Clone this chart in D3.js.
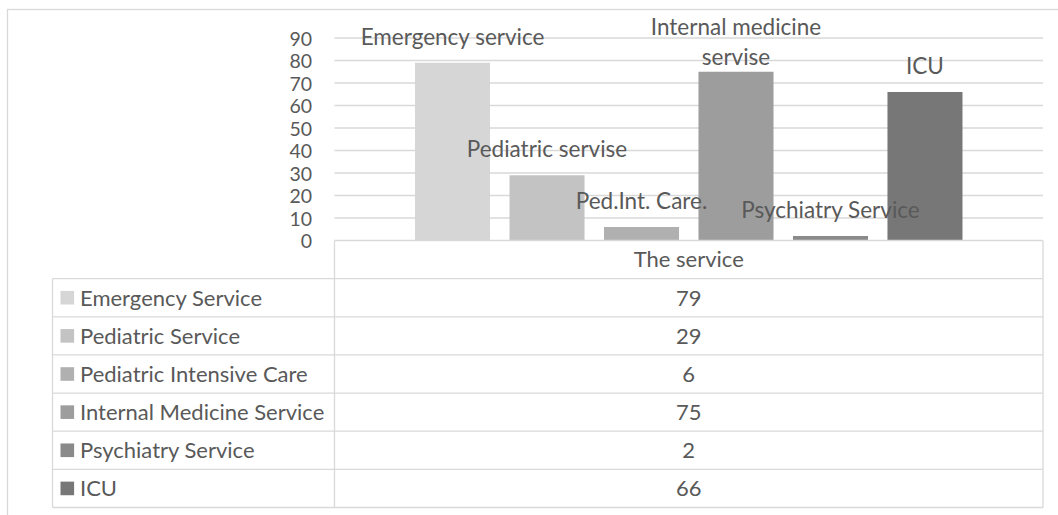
<!DOCTYPE html>
<html>
<head>
<meta charset="utf-8">
<script src="https://cdn.jsdelivr.net/npm/d3@7"></script>
<style>
    body { margin: 0; background: #fff; }
    svg { display: block; }
    text { font-family: Lato, "Open Sans", sans-serif; fill: #595959; }
</style>
</head>
<body>
<div id="chart"></div>
<script>
// chart data
const category = "The service";
const seriesNames = ["Emergency Service", "Pediatric Service", "Pediatric Intensive Care",
    "Internal Medicine Service", "Psychiatry Service", "ICU"];
// labels written above the bars (spelling as in the original)
const barLabels = ["Emergency service", "Pediatric servise", "Ped.Int. Care.",
    "Internal medicine\nservise", "Psychiatry Service", "ICU"];
const values = [79, 29, 6, 75, 2, 66];
const barColors = ["#d6d6d6", "#c3c3c3", "#b0b0b0", "#9d9d9d", "#8a8a8a", "#777777"];
const yTicks = [0, 10, 20, 30, 40, 50, 60, 70, 80, 90];

const width = 1058, height = 515;
const plot = { left: 334.5, right: 1043, top: 38, bottom: 240.5 };
const tableLeft = 52.5;
const rowH = (507.5 - plot.bottom) / 7;
const gridColor = "#d9d9d9";

let svg = d3.select("#chart").append("svg")
    .attr("width", width)
    .attr("height", height);

// outer chart border (runs off the right and bottom edge)
svg.append("rect")
    .attr("x", 7.5).attr("y", 9.5)
    .attr("width", 1100).attr("height", 600)
    .attr("fill", "none")
    .attr("stroke", gridColor)
    .attr("stroke-width", 1.3);

// scales
let y = d3.scaleLinear().domain([0, 90]).range([plot.bottom, plot.top]);

let x0 = d3.scaleBand().domain([category]).range([plot.left, plot.right]);
let x1 = d3.scaleBand().domain(seriesNames)
    .range([0, x0.bandwidth()])
    .paddingInner(0.206)
    .paddingOuter(0.852);

// gridlines
svg.append("g")
    .selectAll("line")
    .data(yTicks.filter(d => d > 0))
    .enter().append("line")
    .attr("x1", plot.left).attr("x2", plot.right)
    .attr("y1", d => y(d)).attr("y2", d => y(d))
    .attr("stroke", gridColor)
    .attr("stroke-width", 1.3);

// y axis labels
let yAxis = d3.axisLeft(y).tickValues(yTicks).tickSize(0).tickPadding(0);
let yAxisG = svg.append("g")
    .attr("transform", `translate(312,0)`)
    .call(yAxis);
yAxisG.select(".domain").remove();
yAxisG.selectAll("text")
    .style("font-family", "Lato, sans-serif")
    .style("font-size", "19.5px")
    .attr("fill", "#595959")
    .attr("dy", "0.36em");

// bars
let groupG = svg.append("g")
    .attr("transform", `translate(${x0(category)},0)`);

groupG.selectAll("rect")
    .data(seriesNames)
    .enter().append("rect")
    .attr("x", d => x1(d))
    .attr("width", x1.bandwidth())
    .attr("y", (d, i) => y(values[i]))
    .attr("height", (d, i) => y(0) - y(values[i]))
    .attr("fill", (d, i) => barColors[i]);

// data labels (series names above bars)
groupG.selectAll(".bar-label")
    .data(seriesNames)
    .enter().append("text")
    .attr("class", "bar-label")
    .attr("text-anchor", "middle")
    .style("font-size", "22.5px")
    .each(function(d, i) {
        let lines = barLabels[i].split("\n");
        let cx = x1(d) + x1.bandwidth() / 2;
        let top = y(values[i]);
        let lastBase = lines.length > 1 ? top - 7 : top - 18;
        let t = d3.select(this);
        lines.forEach((ln, k) => {
            t.append("tspan")
                .attr("x", cx)
                .attr("y", lastBase - (lines.length - 1 - k) * 30)
                .text(ln);
        });
    });

// data table
let table = svg.append("g").attr("class", "data-table");
let lineStyle = sel => sel.attr("stroke", gridColor).attr("stroke-width", 1.3);

// horizontal rules
table.append("line")
    .attr("x1", plot.left).attr("x2", plot.right)
    .attr("y1", plot.bottom).attr("y2", plot.bottom)
    .call(lineStyle);
d3.range(1, 8).forEach(r => {
    table.append("line")
        .attr("x1", tableLeft).attr("x2", plot.right)
        .attr("y1", plot.bottom + r * rowH).attr("y2", plot.bottom + r * rowH)
        .call(lineStyle);
});
// vertical rules
table.append("line")
    .attr("x1", plot.left).attr("x2", plot.left)
    .attr("y1", plot.bottom).attr("y2", plot.bottom + 7 * rowH)
    .call(lineStyle);
table.append("line")
    .attr("x1", plot.right).attr("x2", plot.right)
    .attr("y1", plot.bottom).attr("y2", plot.bottom + 7 * rowH)
    .call(lineStyle);
table.append("line")
    .attr("x1", tableLeft).attr("x2", tableLeft)
    .attr("y1", plot.bottom + rowH).attr("y2", plot.bottom + 7 * rowH)
    .call(lineStyle);

let colCenter = (plot.left + plot.right) / 2;

table.append("text")
    .attr("x", colCenter)
    .attr("y", plot.bottom + rowH / 2)
    .attr("dy", "0.36em")
    .attr("text-anchor", "middle")
    .style("font-size", "22px")
    .text(category);

let rows = table.selectAll(".row")
    .data(seriesNames)
    .enter().append("g")
    .attr("class", "row")
    .attr("transform", (d, i) => `translate(0,${plot.bottom + (i + 1.5) * rowH})`);

rows.append("rect")
    .attr("x", 60.5).attr("y", -6.8)
    .attr("width", 13.6).attr("height", 13.6)
    .attr("fill", (d, i) => barColors[i]);

rows.append("text")
    .attr("x", 80)
    .attr("dy", "0.36em")
    .style("font-size", "22px")
    .text(d => d);

rows.append("text")
    .attr("x", colCenter)
    .attr("dy", "0.36em")
    .attr("text-anchor", "middle")
    .style("font-size", "22px")
    .text((d, i) => values[i]);
</script>
</body>
</html>
